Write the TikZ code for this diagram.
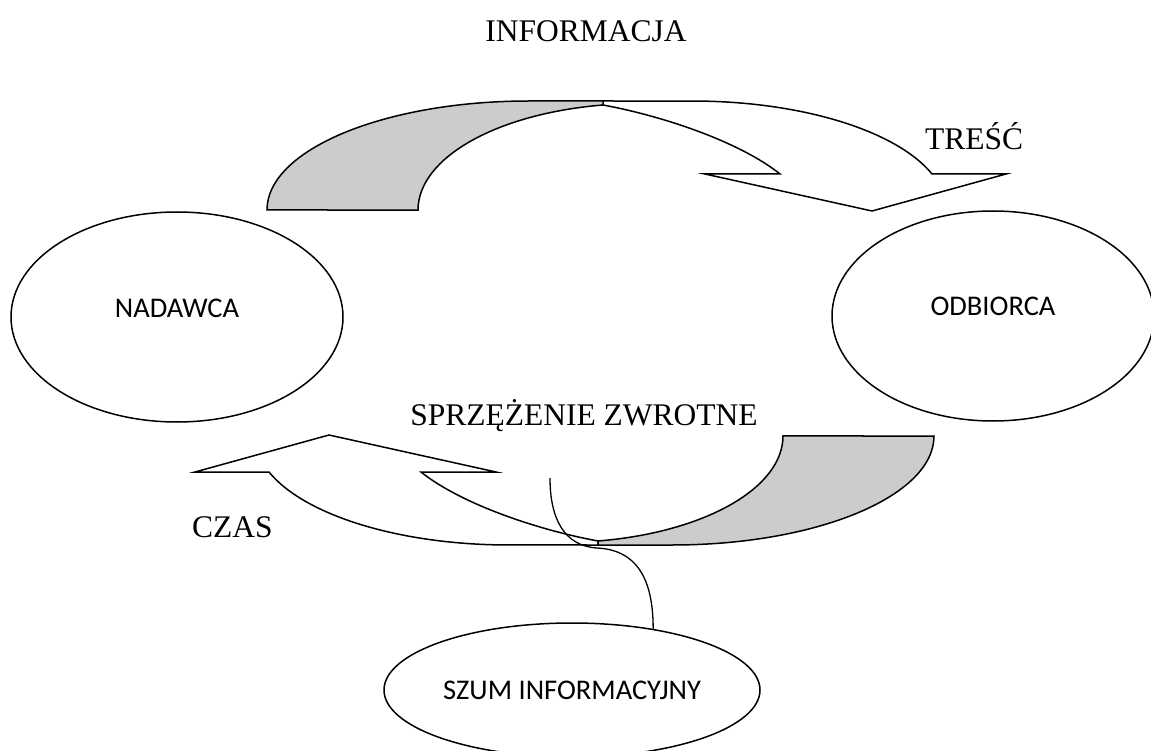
\documentclass[tikz,border=0pt]{standalone}
\usepackage{fontspec}
\setmainfont{Liberation Serif}
\newfontfamily\labelsans{Carlito}
\usetikzlibrary{shapes.geometric}
\definecolor{tailgray}{RGB}{204,204,204}

% One curved arrow: shaded tail on the left, white band running over the top
% and ending in an arrow head that points down on the right.
\newcommand{\curvedarrow}{%
  \path[bandfill]
    (603,105) .. controls (663,116) and (740,142) .. (780,174)
    -- (705,174) -- (872,211) -- (1006,174) -- (932,174)
    arc[start angle=340.7, end angle=270, x radius=254, y radius=109]
    -- (603,101) -- cycle;
  \path[tailfill]
    (267,210) arc[start angle=180, end angle=270, x radius=262, y radius=109]
    -- (603,101) -- (603,105)
    arc[start angle=260.4, end angle=180, x radius=222, y radius=106.5]
    -- cycle;
}

\begin{document}
\begin{tikzpicture}[x=1pt, y=-1pt,
  outline/.style={draw=black, line width=1.5pt, line join=miter},
  bandfill/.style={outline, fill=white},
  tailfill/.style={outline, fill=tailgray},
  party/.style={ellipse, draw=black, line width=1.5pt, inner sep=0pt,
    font=\labelsans\fontsize{28.5}{34}\selectfont},
  caption/.style={inner sep=0pt, font=\fontsize{31.5}{38}\selectfont},
  noise/.style={draw=black, line width=1.3pt}]
  \useasboundingbox (0,0) rectangle (1151,751);

  % message arrow (top) and feedback arrow (bottom, turned half a revolution)
  \curvedarrow
  \begin{scope}[rotate around={180:(600.5,323)}]
    \curvedarrow
  \end{scope}

  % participants
  \node[party, minimum width=332pt, minimum height=210pt,
        text height=20pt, text depth=20pt] (nadawca) at (177,317) {NADAWCA};
  \node[party, minimum width=322pt, minimum height=210pt,
        text height=20pt, text depth=20pt] (odbiorca) at (993,316) {ODBIORCA};
  \node[party, minimum width=376pt, minimum height=134pt] (szum) at (572,690) {SZUM INFORMACYJNY};

  % captions
  \node[caption, anchor=base] (informacja) at (586,42) {INFORMACJA};
  \node[caption, anchor=base west] (tresc) at (925,150) {TREŚĆ};
  \node[caption, anchor=base] (sprzezenie) at (584,425) {SPRZĘŻENIE ZWROTNE};
  \node[caption, anchor=base west] (czas) at (192,537) {CZAS};

  % noise reaching into the feedback loop
  \coordinate (noisetip) at (550,478);
  \draw[noise] (szum.37) .. controls ++(0,-45) and (640,550) .. (597,548)
    .. controls (565,546) and (550,520) .. (noisetip);
\end{tikzpicture}
\end{document}
